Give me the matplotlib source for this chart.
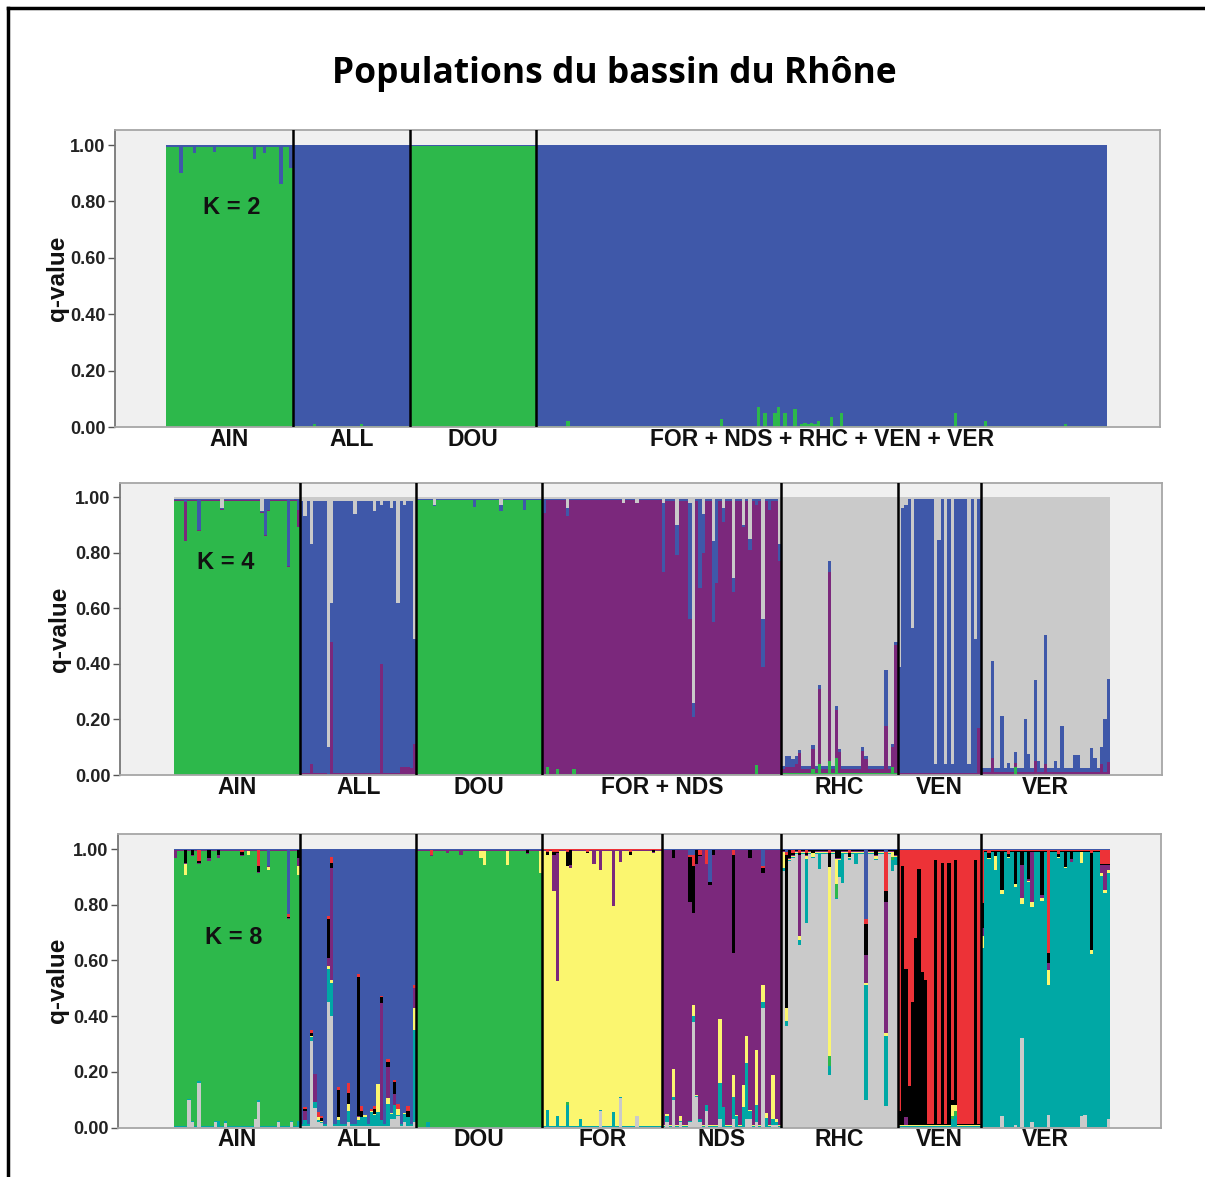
import numpy as np
import matplotlib.pyplot as plt
from matplotlib.lines import Line2D
from matplotlib.transforms import blended_transform_factory

W, H = 1205, 1177
plt.rcParams["font.family"] = ["Liberation Sans", "DejaVu Sans"]

POPS = ["AIN", "ALL", "DOU", "FOR", "NDS", "RHC", "VEN", "VER"]
SIZES = [38, 35, 38, 36, 36, 35, 25, 39]

COLORS = {
    "green": "#2db84b", "blue": "#3f58a9", "purple": "#7b287c", "gray": "#cacaca",
    "yellow": "#fbf66f", "red": "#ed3237", "black": "#000000", "teal": "#00a8a5",
}

# ---- K = 2 -------------------------------------------------------------
K2_ORDER = ["green", "blue"]
K2_MAIN = {"AIN": "green", "ALL": "blue", "DOU": "green", "FOR": "blue",
           "NDS": "blue", "RHC": "blue", "VEN": "blue", "VER": "blue"}
K2_BASE = {"AIN": {"blue": 0.008}, "ALL": {"green": 0.003}, "DOU": {"blue": 0.004},
           "FOR": {"green": 0.003}, "NDS": {"green": 0.003}, "RHC": {"green": 0.005},
           "VEN": {"green": 0.003}, "VER": {"green": 0.003}}
K2_ADMIX = {
    "AIN": {4: {"blue": 0.10}, 8: {"blue": 0.03}, 14: {"blue": 0.025}, 26: {"blue": 0.05},
            29: {"blue": 0.03}, 34: {"blue": 0.14}, 37: {"blue": 0.08}},
    "ALL": {6: {"green": 0.01}, 20: {"green": 0.01}},
    "FOR": {9: {"green": 0.02}},
    "NDS": {19: {"green": 0.03}, 30: {"green": 0.07}, 32: {"green": 0.05}, 35: {"green": 0.05}},
    "RHC": {0: {"green": 0.07}, 2: {"green": 0.05}, 5: {"green": 0.065}, 7: {"green": 0.012},
            8: {"green": 0.015}, 9: {"green": 0.012}, 10: {"green": 0.015}, 11: {"green": 0.012},
            12: {"green": 0.02}, 16: {"green": 0.035}, 19: {"green": 0.05}},
    "VEN": {18: {"green": 0.05}},
    "VER": {2: {"green": 0.02}, 26: {"green": 0.012}},
}
K2_GROUPS = [["AIN"], ["ALL"], ["DOU"], ["FOR", "NDS", "RHC", "VEN", "VER"]]
K2_LABELS = ["AIN", "ALL", "DOU", "FOR + NDS + RHC + VEN + VER"]

# ---- K = 4 -------------------------------------------------------------
K4_ORDER = ["green", "purple", "blue", "gray"]
K4_MAIN = {"AIN": "green", "ALL": "blue", "DOU": "green", "FOR": "purple",
           "NDS": "purple", "RHC": "gray", "VEN": "blue", "VER": "gray"}
K4_BASE = {
    "AIN": {"purple": 0.004, "blue": 0.004, "gray": 0.008},
    "ALL": {"purple": 0.008, "gray": 0.015},
    "DOU": {"blue": 0.003, "gray": 0.006},
    "FOR": {"green": 0.004, "blue": 0.003, "gray": 0.008},
    "NDS": {"green": 0.004, "blue": 0.008, "gray": 0.008},
    "RHC": {"green": 0.008, "purple": 0.012, "blue": 0.012},
    "VEN": {"purple": 0.008, "gray": 0.008},
    "VER": {"purple": 0.012, "blue": 0.012},
}
K4_ADMIX = {
    "AIN": {3: {"purple": 0.14, "blue": 0.01}, 7: {"blue": 0.11}, 14: {"gray": 0.04},
            26: {"gray": 0.05}, 27: {"blue": 0.13}, 28: {"blue": 0.04}, 34: {"blue": 0.24},
            37: {"purple": 0.06, "blue": 0.04}},
    "ALL": {1: {"gray": 0.07}, 3: {"gray": 0.17, "purple": 0.04}, 8: {"gray": 0.90, "purple": 0.005},
            9: {"purple": 0.48, "gray": 0.38}, 16: {"gray": 0.06}, 22: {"gray": 0.05},
            24: {"purple": 0.40, "gray": 0.03}, 27: {"gray": 0.04}, 29: {"gray": 0.38},
            30: {"purple": 0.03}, 31: {"purple": 0.03, "gray": 0.03}, 32: {"purple": 0.03},
            33: {"purple": 0.025}, 34: {"gray": 0.51, "purple": 0.11}},
    "DOU": {5: {"gray": 0.03}, 17: {"blue": 0.03}, 25: {"gray": 0.03, "blue": 0.02},
            32: {"blue": 0.04}},
    "FOR": {0: {"blue": 0.05}, 1: {"green": 0.03}, 4: {"green": 0.02},
            7: {"gray": 0.04, "blue": 0.03}, 9: {"green": 0.02}, 24: {"gray": 0.02},
            28: {"gray": 0.02}},
    "NDS": {0: {"blue": 0.25, "gray": 0.02}, 4: {"blue": 0.11, "gray": 0.10},
            8: {"blue": 0.42, "gray": 0.02}, 9: {"blue": 0.05, "gray": 0.74},
            11: {"blue": 0.32}, 12: {"blue": 0.14, "gray": 0.06},
            15: {"blue": 0.29, "gray": 0.16}, 16: {"blue": 0.30}, 18: {"blue": 0.05, "gray": 0.04},
            21: {"blue": 0.05, "gray": 0.29}, 24: {"gray": 0.10}, 26: {"gray": 0.15, "blue": 0.04},
            28: {"green": 0.035, "blue": 0.02}, 30: {"gray": 0.44, "blue": 0.17},
            32: {"blue": 0.04}, 35: {"gray": 0.17, "blue": 0.06}},
    "RHC": {1: {"blue": 0.04, "purple": 0.02}, 2: {"blue": 0.04, "purple": 0.02},
            3: {"blue": 0.03, "purple": 0.02}, 4: {"blue": 0.03, "purple": 0.03},
            5: {"purple": 0.07}, 9: {"purple": 0.075, "green": 0.02},
            11: {"purple": 0.27, "green": 0.04}, 14: {"green": 0.05, "purple": 0.68, "blue": 0.04},
            16: {"green": 0.06, "purple": 0.175}, 17: {"purple": 0.075}, 24: {"purple": 0.08},
            25: {"purple": 0.05}, 31: {"purple": 0.17, "blue": 0.20},
            33: {"purple": 0.07, "green": 0.03}, 34: {"purple": 0.46}},
    "VEN": {0: {"gray": 0.61}, 1: {"gray": 0.04}, 2: {"gray": 0.03}, 4: {"gray": 0.47},
            11: {"gray": 0.96}, 12: {"gray": 0.155}, 14: {"gray": 0.96}, 16: {"gray": 0.96},
            21: {"gray": 0.96}, 23: {"gray": 0.51}, 24: {"purple": 0.17}},
    "VER": {3: {"blue": 0.35, "purple": 0.06}, 6: {"blue": 0.20}, 8: {"blue": 0.03},
            10: {"green": 0.03, "blue": 0.04}, 13: {"blue": 0.19}, 14: {"blue": 0.065},
            16: {"purple": 0.05, "blue": 0.29}, 17: {"blue": 0.04},
            19: {"purple": 0.04, "blue": 0.465}, 22: {"blue": 0.04}, 24: {"blue": 0.165},
            28: {"blue": 0.06}, 29: {"blue": 0.06}, 33: {"blue": 0.085}, 34: {"blue": 0.05},
            36: {"purple": 0.04, "blue": 0.06}, 37: {"blue": 0.19},
            38: {"purple": 0.045, "blue": 0.30}},
}
K4_GROUPS = [["AIN"], ["ALL"], ["DOU"], ["FOR", "NDS"], ["RHC"], ["VEN"], ["VER"]]
K4_LABELS = ["AIN", "ALL", "DOU", "FOR + NDS", "RHC", "VEN", "VER"]

# ---- K = 8 -------------------------------------------------------------
K8_ORDER = ["gray", "teal", "green", "yellow", "purple", "black", "red", "blue"]
K8_MAIN = {"AIN": "green", "ALL": "blue", "DOU": "green", "FOR": "yellow",
           "NDS": "purple", "RHC": "gray", "VEN": "red", "VER": "teal"}
K8_BASE = {
    "AIN": {"gray": 0.002, "teal": 0.002, "purple": 0.003, "black": 0.002, "blue": 0.002},
    "ALL": {"gray": 0.006, "teal": 0.006, "yellow": 0.002},
    "DOU": {"teal": 0.002, "purple": 0.002, "red": 0.003, "blue": 0.002},
    "FOR": {"gray": 0.002, "teal": 0.003, "purple": 0.002, "black": 0.003, "red": 0.002},
    "NDS": {"gray": 0.003, "teal": 0.003, "yellow": 0.002, "black": 0.002, "blue": 0.003},
    "RHC": {"teal": 0.004, "yellow": 0.004, "purple": 0.002, "black": 0.004, "blue": 0.003},
    "VEN": {"teal": 0.004, "green": 0.003, "yellow": 0.002, "black": 0.004, "blue": 0.003},
    "VER": {"gray": 0.002, "yellow": 0.002, "black": 0.003, "red": 0.002, "blue": 0.004},
}
K8_ADMIX = {
    "AIN": {0: {"purple": 0.03}, 3: {"black": 0.05, "yellow": 0.04}, 4: {"gray": 0.10},
            5: {"black": 0.02, "gray": 0.02},
            7: {"gray": 0.16, "teal": 0.006, "red": 0.04, "black": 0.01},
            10: {"black": 0.03, "purple": 0.01}, 12: {"gray": 0.02},
            13: {"black": 0.02, "purple": 0.01, "teal": 0.02}, 15: {"gray": 0.015, "teal": 0.01},
            20: {"red": 0.01, "black": 0.01}, 22: {"yellow": 0.015},
            24: {"gray": 0.03}, 25: {"red": 0.06, "black": 0.02, "gray": 0.09, "teal": 0.01},
            28: {"blue": 0.06, "yellow": 0.01}, 31: {"gray": 0.02},
            34: {"blue": 0.235, "red": 0.01}, 35: {"gray": 0.02},
            37: {"purple": 0.03, "black": 0.03, "yellow": 0.03, "teal": 0.02}},
    "ALL": {1: {"teal": 0.02, "purple": 0.03, "black": 0.01, "red": 0.005},
            3: {"gray": 0.31, "teal": 0.015, "yellow": 0.005, "black": 0.01, "red": 0.01},
            4: {"gray": 0.07, "teal": 0.02, "purple": 0.10},
            5: {"gray": 0.02, "yellow": 0.01, "red": 0.02},
            6: {"gray": 0.015, "black": 0.01, "red": 0.01},
            8: {"gray": 0.45, "teal": 0.12, "yellow": 0.01, "purple": 0.03, "black": 0.14, "red": 0.01},
            9: {"gray": 0.40, "teal": 0.12, "yellow": 0.01, "purple": 0.40, "black": 0.02, "red": 0.02},
            11: {"teal": 0.02, "yellow": 0.01, "black": 0.10, "red": 0.01},
            14: {"gray": 0.02, "teal": 0.04, "yellow": 0.025, "black": 0.04, "red": 0.035},
            17: {"teal": 0.02, "yellow": 0.01, "purple": 0.005, "black": 0.50, "red": 0.01},
            18: {"teal": 0.03, "black": 0.02, "red": 0.02}, 19: {"teal": 0.03, "yellow": 0.01},
            21: {"teal": 0.05, "red": 0.01}, 22: {"teal": 0.04, "black": 0.02, "red": 0.01},
            23: {"teal": 0.05, "yellow": 0.10},
            24: {"teal": 0.02, "purple": 0.42, "black": 0.02, "red": 0.005},
            26: {"teal": 0.08, "yellow": 0.02, "purple": 0.11, "black": 0.02, "red": 0.01},
            27: {"gray": 0.03, "teal": 0.02},
            28: {"gray": 0.03, "teal": 0.05, "purple": 0.04, "black": 0.04, "red": 0.01},
            29: {"gray": 0.04, "yellow": 0.02, "red": 0.02}, 31: {"teal": 0.03, "gray": 0.02},
            32: {"teal": 0.03, "black": 0.02, "red": 0.02},
            34: {"gray": 0.02, "teal": 0.33, "yellow": 0.08, "purple": 0.07, "red": 0.01}},
    "DOU": {3: {"teal": 0.02}, 4: {"red": 0.02}, 9: {"purple": 0.01}, 13: {"purple": 0.015},
            19: {"yellow": 0.025}, 20: {"yellow": 0.05}, 27: {"yellow": 0.05},
            33: {"black": 0.01}, 37: {"yellow": 0.08}},
    "FOR": {1: {"teal": 0.06, "black": 0.01, "red": 0.01},
            3: {"purple": 0.13, "black": 0.01, "red": 0.01},
            4: {"purple": 0.46, "red": 0.01, "teal": 0.04},
            7: {"black": 0.05, "red": 0.01, "teal": 0.08, "green": 0.01},
            8: {"black": 0.055, "purple": 0.01}, 11: {"teal": 0.03}, 13: {"red": 0.01},
            15: {"purple": 0.05}, 17: {"purple": 0.07, "gray": 0.06},
            21: {"purple": 0.20, "teal": 0.055}, 23: {"purple": 0.04, "gray": 0.105},
            26: {"red": 0.01, "black": 0.01}, 28: {"gray": 0.04}, 33: {"black": 0.01}},
    "NDS": {1: {"gray": 0.02, "teal": 0.02, "yellow": 0.01},
            3: {"gray": 0.10, "teal": 0.01, "yellow": 0.10, "black": 0.03},
            5: {"gray": 0.02, "yellow": 0.02},
            8: {"black": 0.16, "blue": 0.02, "red": 0.01, "gray": 0.02},
            9: {"gray": 0.38, "teal": 0.02, "yellow": 0.04, "black": 0.17, "red": 0.04, "blue": 0.02},
            10: {"gray": 0.11, "black": 0.05}, 11: {"gray": 0.02, "teal": 0.01, "red": 0.02},
            13: {"red": 0.05, "gray": 0.06, "teal": 0.02}, 14: {"blue": 0.12, "black": 0.01},
            15: {"black": 0.02}, 17: {"gray": 0.03, "teal": 0.13, "yellow": 0.23},
            18: {"teal": 0.07},
            21: {"black": 0.35, "red": 0.02, "gray": 0.03, "teal": 0.08, "yellow": 0.08},
            22: {"teal": 0.04}, 24: {"teal": 0.07, "yellow": 0.08},
            25: {"gray": 0.03, "teal": 0.20, "yellow": 0.10},
            26: {"black": 0.03, "gray": 0.03, "teal": 0.03},
            28: {"gray": 0.02, "teal": 0.06, "yellow": 0.20},
            30: {"blue": 0.06, "red": 0.01, "black": 0.015, "gray": 0.43, "teal": 0.02, "yellow": 0.06},
            31: {"teal": 0.03, "yellow": 0.02}, 33: {"gray": 0.01, "teal": 0.02, "yellow": 0.16},
            34: {"gray": 0.01, "teal": 0.01, "yellow": 0.01}},
    "RHC": {0: {"yellow": 0.06, "teal": 0.01},
            1: {"teal": 0.02, "yellow": 0.045, "black": 0.55, "red": 0.01, "blue": 0.01},
            2: {"black": 0.03}, 3: {"red": 0.01, "black": 0.01},
            5: {"teal": 0.015, "yellow": 0.015, "purple": 0.29, "black": 0.01, "red": 0.01},
            7: {"teal": 0.23, "yellow": 0.01, "black": 0.01, "red": 0.01},
            9: {"yellow": 0.015, "black": 0.01}, 11: {"teal": 0.06},
            14: {"teal": 0.03, "green": 0.035, "yellow": 0.68, "black": 0.05, "red": 0.01},
            16: {"green": 0.05, "yellow": 0.09, "black": 0.03}, 17: {"teal": 0.06, "black": 0.03},
            18: {"teal": 0.11}, 20: {"red": 0.01, "black": 0.015}, 22: {"teal": 0.04},
            25: {"teal": 0.41, "yellow": 0.01, "purple": 0.10, "black": 0.11, "red": 0.02, "blue": 0.25},
            28: {"black": 0.02, "yellow": 0.01},
            31: {"teal": 0.25, "yellow": 0.012, "purple": 0.47, "black": 0.04, "red": 0.14, "blue": 0.01},
            33: {"teal": 0.04, "yellow": 0.02, "green": 0.01}, 34: {"teal": 0.03, "black": 0.02}},
    "VEN": {0: {"black": 0.05}, 1: {"black": 0.93}, 2: {"black": 0.53, "purple": 0.03},
            3: {"black": 0.14}, 4: {"black": 0.44}, 5: {"black": 0.67}, 6: {"black": 0.92},
            7: {"black": 0.55}, 8: {"black": 0.52}, 11: {"black": 0.95}, 13: {"black": 0.94},
            15: {"black": 0.94},
            16: {"teal": 0.03, "yellow": 0.04, "green": 0.01, "black": 0.02},
            17: {"teal": 0.04, "green": 0.02, "yellow": 0.02, "black": 0.88},
            23: {"black": 0.95}},
    "VER": {0: {"yellow": 0.04, "purple": 0.03, "black": 0.09, "red": 0.19},
            2: {"black": 0.02, "red": 0.01},
            4: {"yellow": 0.05, "black": 0.02},
            6: {"black": 0.14, "yellow": 0.015, "gray": 0.04},
            8: {"red": 0.015, "black": 0.01},
            10: {"black": 0.12, "yellow": 0.01, "gray": 0.01},
            12: {"black": 0.05, "purple": 0.12, "yellow": 0.02, "gray": 0.32},
            14: {"black": 0.10, "purple": 0.01}, 15: {"purple": 0.18, "yellow": 0.02, "gray": 0.02},
            18: {"black": 0.16, "purple": 0.01, "yellow": 0.01},
            20: {"yellow": 0.053, "purple": 0.024, "black": 0.036, "red": 0.37, "gray": 0.045},
            23: {"red": 0.015, "black": 0.01},
            25: {"black": 0.06}, 27: {"black": 0.03, "purple": 0.01},
            30: {"yellow": 0.04, "gray": 0.04}, 31: {"gray": 0.045},
            33: {"black": 0.35, "yellow": 0.012, "red": 0.01},
            36: {"red": 0.05, "purple": 0.03, "yellow": 0.01},
            37: {"purple": 0.09, "red": 0.05, "yellow": 0.01},
            38: {"red": 0.05, "purple": 0.02, "yellow": 0.01, "gray": 0.03}},
}
K8_GROUPS = [[p] for p in POPS]
K8_LABELS = POPS


def build(order, main, base, admix):
    rows = []
    for pop, n in zip(POPS, SIZES):
        for i in range(n):
            minor = dict(base.get(pop, {}))
            minor.update(admix.get(pop, {}).get(i, {}))
            q = [minor.get(c, 0.0) for c in order]
            q[order.index(main[pop])] = 1.0 - sum(v for c, v in minor.items() if c != main[pop])
            rows.append(q)
    return np.array(rows)


def px_axes(fig, left, top, right, bottom):
    return fig.add_axes([left / W, 1 - bottom / H, (right - left) / W, (bottom - top) / H])


def draw_panel(fig, box, bars, y1, Q, order, groups, labels, ktext, kpos, label_y, qlab_x):
    left, top, right, bottom = box
    ax = px_axes(fig, left, top, right, bottom)
    n = len(Q)
    ppi = (bars[1] - bars[0]) / n
    ax.set_xlim(-(bars[0] - left) / ppi, n + (right - bars[1]) / ppi)
    ax.set_ylim(0, (bottom - top) / (bottom - y1))
    ax.set_facecolor("#f0f0f0")

    x = np.arange(n)
    base = np.zeros(n)
    for j, c in enumerate(order):
        ax.bar(x, Q[:, j], bottom=base, width=1.0, align="edge", color=COLORS[c],
               linewidth=0, antialiased=False)
        base += Q[:, j]

    sizes = dict(zip(POPS, SIZES))
    edges = np.cumsum([0] + [sum(sizes[p] for p in g) for g in groups])
    for e in edges[1:-1]:
        ax.axvline(e, color="black", lw=1.8, zorder=5)

    tr = blended_transform_factory(ax.transData, fig.transFigure)
    for a, b, lab in zip(edges[:-1], edges[1:], labels):
        ax.text((a + b) / 2, 1 - label_y / H, lab, transform=tr, ha="center", va="center",
                fontsize=16.5, fontweight="bold", color="#111111")

    ax.text(kpos[0], kpos[1], ktext, ha="center", va="center", fontsize=17,
            fontweight="bold", color="#111111", zorder=6)

    ax.set_yticks([0, 0.2, 0.4, 0.6, 0.8, 1.0])
    ax.set_yticklabels(["0.00", "0.20", "0.40", "0.60", "0.80", "1.00"],
                       fontsize=13, fontweight="bold", color="#222222")
    ax.set_xticks([])
    ax.tick_params(axis="y", length=5, width=1, color="#555555", pad=2)
    for s in ax.spines.values():
        s.set_color("#a6a6a6")
        s.set_linewidth(1.3)
    ax.spines["left"].set_color("#777777")

    fig.text(qlab_x / W, 1 - ((top + bottom) / 2) / H, "q-value", rotation=90,
             ha="center", va="center", fontsize=17.5, fontweight="bold", color="#111111")
    return ax


fig = plt.figure(figsize=(W / 100, H / 100), dpi=100)
fig.patch.set_facecolor("white")

fig.text(614 / W, 1 - 74 / H, "Populations du bassin du Rhône", ha="center", va="center",
         fontsize=25.5, fontweight="bold", family=["Open Sans", "DejaVu Sans"])

Q2 = build(K2_ORDER, K2_MAIN, K2_BASE, K2_ADMIX)
Q4 = build(K4_ORDER, K4_MAIN, K4_BASE, K4_ADMIX)
Q8 = build(K8_ORDER, K8_MAIN, K8_BASE, K8_ADMIX)

draw_panel(fig, (115, 130, 1160, 427), (166, 1107), 145, Q2, K2_ORDER, K2_GROUPS, K2_LABELS,
           "K = 2", (19.8, 0.78), 440, 57)
draw_panel(fig, (120, 483, 1162, 775), (174, 1110), 497, Q4, K4_ORDER, K4_GROUPS, K4_LABELS,
           "K = 4", (15.7, 0.766), 788, 59)
draw_panel(fig, (118, 834, 1161, 1127.5), (174, 1110), 849, Q8, K8_ORDER, K8_GROUPS, K8_LABELS,
           "K = 8", (18.0, 0.684), 1139, 57)

# outer frame (top and left edges)
fig.add_artist(Line2D([8 / W, 1], [1 - 8 / H, 1 - 8 / H], color="black", lw=2.5,
                      transform=fig.transFigure))
fig.add_artist(Line2D([8 / W, 8 / W], [0, 1 - 8 / H], color="black", lw=2.5,
                      transform=fig.transFigure))

fig.savefig("out.png", dpi=100)
